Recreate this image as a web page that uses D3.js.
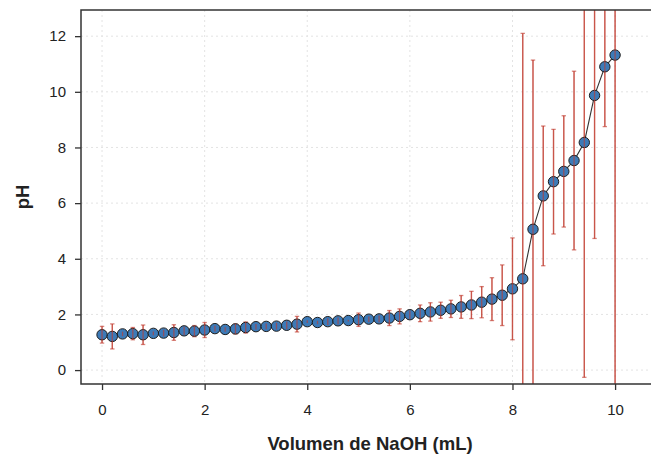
<!DOCTYPE html>
<html>
<head>
<meta charset="utf-8">
<script src="https://cdn.jsdelivr.net/npm/d3@7"></script>
<style>
  body { margin: 0; background: #fff; }
  svg text { font-family: "Liberation Sans", Arial, sans-serif; fill: #222; }
</style>
</head>
<body>
<div id="chart"></div>
<script>
// volume of NaOH added (mL)
const volumen = [0, 0.2, 0.4, 0.6, 0.8, 1.0, 1.2, 1.4, 1.6, 1.8,
  2.0, 2.2, 2.4, 2.6, 2.8, 3.0, 3.2, 3.4, 3.6, 3.8,
  4.0, 4.2, 4.4, 4.6, 4.8, 5.0, 5.2, 5.4, 5.6, 5.8,
  6.0, 6.2, 6.4, 6.6, 6.8, 7.0, 7.2, 7.4, 7.6, 7.8,
  8.0, 8.2, 8.4, 8.6, 8.8, 9.0, 9.2, 9.4, 9.6, 9.8, 10.0];

// mean pH
const ph = [1.27, 1.21, 1.30, 1.31, 1.27, 1.32, 1.33, 1.35, 1.41, 1.40,
  1.44, 1.49, 1.46, 1.48, 1.53, 1.56, 1.57, 1.58, 1.61, 1.65,
  1.74, 1.71, 1.74, 1.77, 1.78, 1.81, 1.83, 1.84, 1.87, 1.93,
  1.99, 2.04, 2.09, 2.15, 2.20, 2.27, 2.34, 2.44, 2.55, 2.69,
  2.92, 3.28, 5.06, 6.26, 6.77, 7.14, 7.53, 8.18, 9.87, 10.90, 11.32];

// error bar half-width
const errorPh = [0.30, 0.45, 0.08, 0.22, 0.35, 0.07, 0.12, 0.28, 0.15, 0.20,
  0.27, 0.10, 0.08, 0.18, 0.20, 0.10, 0.10, 0.12, 0.14, 0.28,
  0.05, 0.06, 0.12, 0.12, 0.03, 0.24, 0.10, 0.12, 0.27, 0.27,
  0.15, 0.30, 0.33, 0.29, 0.31, 0.41, 0.49, 0.56, 0.77, 1.09,
  1.83, 8.82, 6.08, 2.51, 1.88, 2.00, 3.21, 8.44, 5.14, 2.15, 12.5];

const xTicks = [0, 2, 4, 6, 8, 10];
const yTicks = [0, 2, 4, 6, 8, 10, 12];

const data = volumen.map((v, i) => ({ x: v, y: ph[i], e: errorPh[i] }));

//========================================================================
const width = 651, height = 456;
const panel = { left: 81, right: 651, top: 10, bottom: 384 };

const svg = d3.select("#chart").append("svg")
  .attr("width", width).attr("height", height);

const xScale = d3.scaleLinear().domain([-0.41, 10.7]).range([panel.left, panel.right]);
const yScale = d3.scaleLinear().domain([-0.5, 12.94]).range([panel.bottom, panel.top]);

svg.append("clipPath").attr("id", "panel")
  .append("rect").attr("x", panel.left).attr("y", panel.top)
  .attr("width", panel.right - panel.left).attr("height", panel.bottom - panel.top);

//=========================== GRID =======================================
const grid = svg.append("g").attr("clip-path", "url(#panel)");
grid.selectAll(".vgrid").data(xTicks).enter().append("line")
  .attr("x1", d => xScale(d)).attr("x2", d => xScale(d))
  .attr("y1", panel.top).attr("y2", panel.bottom)
  .attr("stroke", "#e3e3e3").attr("stroke-dasharray", "2,3");
grid.selectAll(".hgrid").data(yTicks).enter().append("line")
  .attr("y1", d => yScale(d)).attr("y2", d => yScale(d))
  .attr("x1", panel.left).attr("x2", panel.right)
  .attr("stroke", "#e3e3e3").attr("stroke-dasharray", "2,3");

//=========================== ERROR BARS =================================
const barColor = "#c0392b", barAlpha = 0.62;
const bars = svg.append("g").attr("clip-path", "url(#panel)")
  .attr("stroke", barColor).attr("stroke-opacity", barAlpha).attr("stroke-width", 1.3);
bars.selectAll(".err").data(data).enter().append("line")
  .attr("x1", d => xScale(d.x)).attr("x2", d => xScale(d.x))
  .attr("y1", d => yScale(d.y - d.e)).attr("y2", d => yScale(d.y + d.e));
["lo", "hi"].forEach(k => {
  bars.selectAll(".cap-" + k).data(data).enter().append("line")
    .attr("x1", d => xScale(d.x) - 2.2).attr("x2", d => xScale(d.x) + 2.2)
    .attr("y1", d => yScale(k === "lo" ? d.y - d.e : d.y + d.e))
    .attr("y2", d => yScale(k === "lo" ? d.y - d.e : d.y + d.e));
});

//=========================== LINE + POINTS ==============================
svg.append("path").datum(data)
  .attr("fill", "none").attr("stroke", "#333").attr("stroke-width", 1.1)
  .attr("d", d3.line().x(d => xScale(d.x)).y(d => yScale(d.y)));

svg.selectAll(".pt").data(data).enter().append("circle")
  .attr("cx", d => xScale(d.x)).attr("cy", d => yScale(d.y))
  .attr("r", 5.2)
  .attr("fill", "#3d7ab7").attr("stroke", "#1e1e1e").attr("stroke-width", 1);

// the bars show through the dots in the reference, so draw them again on top
const inner = svg.append("g").attr("clip-path", "url(#panel)")
  .attr("stroke", barColor).attr("stroke-opacity", barAlpha).attr("stroke-width", 1.3);
inner.selectAll(".err2").data(data).enter().append("line")
  .attr("x1", d => xScale(d.x)).attr("x2", d => xScale(d.x))
  .attr("y1", d => yScale(d.y - d.e)).attr("y2", d => yScale(d.y + d.e));

//=========================== AXES =======================================
const axisColor = "#333";
const yAxis = svg.append("g").attr("transform", `translate(${panel.left},0)`)
  .call(d3.axisLeft(yScale).tickValues(yTicks).tickSize(6).tickPadding(9).tickSizeOuter(0));
const xAxis = svg.append("g").attr("transform", `translate(0,${panel.bottom})`)
  .call(d3.axisBottom(xScale).tickValues(xTicks).tickSize(6).tickPadding(14).tickSizeOuter(0));
[xAxis, yAxis].forEach(a => {
  a.select(".domain").remove();
  a.selectAll("line").attr("stroke", axisColor).attr("stroke-width", 1.3);
  a.selectAll("text").style("font-size", "15px").attr("fill", "#222");
});

// panel frame: top, left, bottom
svg.append("path")
  .attr("d", `M${panel.right},${panel.top}H${panel.left}V${panel.bottom}H${panel.right}`)
  .attr("fill", "none").attr("stroke", axisColor).attr("stroke-width", 1.5);

svg.append("text")
  .attr("x", 370).attr("y", 450).attr("text-anchor", "middle")
  .style("font-size", "18.5px").style("font-weight", "bold")
  .text("Volumen de NaOH (mL)");

svg.append("text")
  .attr("transform", `translate(29,${(panel.top + panel.bottom) / 2}) rotate(-90)`)
  .attr("text-anchor", "middle")
  .style("font-size", "18.5px").style("font-weight", "bold")
  .text("pH");
</script>
</body>
</html>
